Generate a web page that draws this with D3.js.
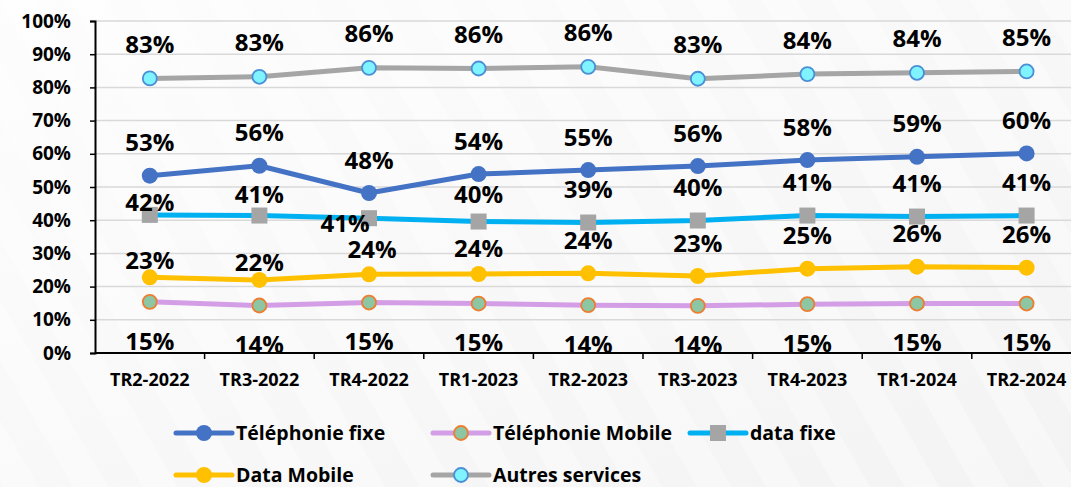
<!DOCTYPE html>
<html>
<head>
<meta charset="utf-8">
<script src="https://cdn.jsdelivr.net/npm/d3@7"></script>
<style>
  html, body { margin: 0; padding: 0; background: #fafafa; }
  svg { display: block; font-family: "Open Sans", sans-serif; font-weight: bold; }
</style>
</head>
<body>
<div id="chart"></div>
<script>
const categories = ["TR2-2022", "TR3-2022", "TR4-2022", "TR1-2023", "TR2-2023", "TR3-2023", "TR4-2023", "TR1-2024", "TR2-2024"];

// shares in %
const telFixe    = [53.4, 56.4, 48.2, 53.9, 55.1, 56.3, 58.1, 59.1, 60.1];
const telMobile  = [15.4, 14.3, 15.2, 14.9, 14.4, 14.2, 14.7, 14.9, 14.9];
const dataFixe   = [41.6, 41.4, 40.6, 39.6, 39.3, 39.9, 41.4, 41.1, 41.4];
const dataMobile = [22.8, 22.0, 23.7, 23.8, 24.0, 23.2, 25.4, 26.0, 25.7];
const autres     = [82.7, 83.2, 85.9, 85.7, 86.2, 82.6, 84.0, 84.4, 84.8];

const yTicks = [0, 10, 20, 30, 40, 50, 60, 70, 80, 90, 100];

const series = [
  {name: "Téléphonie fixe", values: telFixe, line: "#4472c4", marker: "circle", fill: "#4472c4", stroke: "#4472c4", labelDy: -33},
  {name: "Téléphonie Mobile", values: telMobile, line: "#d49ee6", marker: "circle", fill: "#8cc6a2", stroke: "#ed7d31", labelDy: 39},
  {name: "data fixe", values: dataFixe, line: "#00b0f0", marker: "square", fill: "#a5a5a5", stroke: "#a5a5a5", labelDy: -33},
  {name: "Data Mobile", values: dataMobile, line: "#ffc000", marker: "circle", fill: "#ffc000", stroke: "#ffc000", labelDy: -33},
  {name: "Autres services", values: autres, line: "#a5a5a5", marker: "circle", fill: "#7ff3ff", stroke: "#4a8fd6", labelDy: -34}
];

// hand-moved data labels (as in the original sheet)
const labelNudge = {
  "data fixe": {0: {dy: -13}, 1: {dy: -21}, 2: {dy: 5, dx: -24}, 3: {dy: -27}},
  "Data Mobile": {0: {dy: -17}, 1: {dy: -18}, 2: {dy: -25, dx: 3}, 3: {dy: -26}}
};

const width = 1071, height = 487;
const plotLeft = 95, band = 109.6;
const plotTop = 21, plotBottom = 353;

const svg = d3.select("#chart").append("svg")
  .attr("width", width)
  .attr("height", height);

// background
const defs = svg.append("defs");
const grad = defs.append("linearGradient").attr("id", "bg")
  .attr("x1", "0").attr("y1", "0").attr("x2", "1").attr("y2", "1");
grad.append("stop").attr("offset", "0%").attr("stop-color", "#fdfdfd");
grad.append("stop").attr("offset", "100%").attr("stop-color", "#f3f3f3");
const pat = defs.append("pattern").attr("id", "stripes")
  .attr("width", 60).attr("height", 60)
  .attr("patternUnits", "userSpaceOnUse")
  .attr("patternTransform", "rotate(-30)");
pat.append("rect").attr("width", 30).attr("height", 60).attr("fill", "#ffffff").attr("opacity", 0.35);

svg.append("rect").attr("width", width).attr("height", height).attr("fill", "url(#bg)");
svg.append("rect").attr("width", width).attr("height", height).attr("fill", "url(#stripes)");

const x = d3.scaleBand()
  .domain(categories)
  .range([plotLeft, plotLeft + band * categories.length]);

const y = d3.scaleLinear()
  .domain([0, 100])
  .range([plotBottom, plotTop]);

const cx = d => x(d) + x.bandwidth() / 2;

// gridlines
svg.append("g")
  .selectAll("line")
  .data(yTicks.filter(t => t > 0))
  .join("line")
  .attr("x1", plotLeft).attr("x2", width)
  .attr("y1", d => y(d)).attr("y2", d => y(d))
  .attr("stroke", "#d9d9d9")
  .attr("stroke-width", 1.5);

// y axis
const yAxis = svg.append("g")
  .attr("transform", `translate(${plotLeft},0)`)
  .call(d3.axisLeft(y).tickValues(yTicks).tickSize(5).tickPadding(19).tickFormat(d => d + "%"));
yAxis.select(".domain").attr("stroke", "#000").attr("stroke-width", 2);
yAxis.selectAll(".tick line").attr("stroke", "#000").attr("stroke-width", 1.5);
yAxis.selectAll("text")
  .attr("font-size", 19)
  .attr("font-family", "Open Sans, sans-serif")
  .attr("font-weight", "bold")
  .attr("fill", "#000");

// x axis
svg.append("line")
  .attr("x1", plotLeft).attr("x2", width)
  .attr("y1", plotBottom).attr("y2", plotBottom)
  .attr("stroke", "#000").attr("stroke-width", 2);

svg.append("g")
  .selectAll("line")
  .data(categories.slice(1))
  .join("line")
  .attr("x1", d => x(d)).attr("x2", d => x(d))
  .attr("y1", plotBottom).attr("y2", plotBottom + 6)
  .attr("stroke", "#000").attr("stroke-width", 1.5);

svg.append("g")
  .selectAll("text")
  .data(categories)
  .join("text")
  .attr("x", d => cx(d))
  .attr("y", 380)
  .attr("dy", "0.36em")
  .attr("text-anchor", "middle")
  .attr("font-size", 18)
  .text(d => d);

// lines
const line = d3.line()
  .x((d, i) => cx(categories[i]))
  .y(d => y(d));

svg.append("g")
  .selectAll("path")
  .data(series)
  .join("path")
  .attr("d", s => line(s.values))
  .attr("fill", "none")
  .attr("stroke", s => s.line)
  .attr("stroke-width", 5)
  .attr("stroke-linejoin", "round");

// markers
function drawMarker(g, s, px, py) {
  if (s.marker === "square") {
    g.append("rect")
      .attr("x", px - 8).attr("y", py - 8)
      .attr("width", 16).attr("height", 16)
      .attr("fill", s.fill);
  } else {
    g.append("circle")
      .attr("cx", px).attr("cy", py)
      .attr("r", s.fill === s.stroke ? 8 : 7)
      .attr("fill", s.fill)
      .attr("stroke", s.stroke)
      .attr("stroke-width", s.fill === s.stroke ? 0 : 1.8);
  }
}

const markers = svg.append("g");
series.forEach(s => {
  s.values.forEach((v, i) => drawMarker(markers, s, cx(categories[i]), y(v)));
});

// data labels
const fmt = d3.format(".0%");
const labels = svg.append("g");
series.forEach(s => {
  s.values.forEach((v, i) => {
    const n = (labelNudge[s.name] || {})[i] || {};
    labels.append("text")
      .attr("x", cx(categories[i]) + (n.dx || 0))
      .attr("y", y(v) + (n.dy !== undefined ? n.dy : s.labelDy))
      .attr("dy", "0.36em")
      .attr("text-anchor", "middle")
      .attr("font-size", 24)
      .attr("fill", "#000")
      .text(fmt(v / 100));
  });
});

// legend
const legendPos = [[176, 433], [433, 433], [690, 433], [176, 475], [433, 475]];
const legend = svg.append("g");
series.forEach((s, i) => {
  const [lx, ly] = legendPos[i];
  legend.append("line")
    .attr("x1", lx).attr("x2", lx + 56)
    .attr("y1", ly).attr("y2", ly)
    .attr("stroke", s.line).attr("stroke-width", 5)
    .attr("stroke-linecap", "round");
  drawMarker(legend, s, lx + 28, ly);
  legend.append("text")
    .attr("x", lx + 60)
    .attr("y", ly)
    .attr("dy", "0.36em")
    .attr("font-size", 19.5)
    .attr("fill", "#000")
    .text(s.name);
});
</script>
</body>
</html>
